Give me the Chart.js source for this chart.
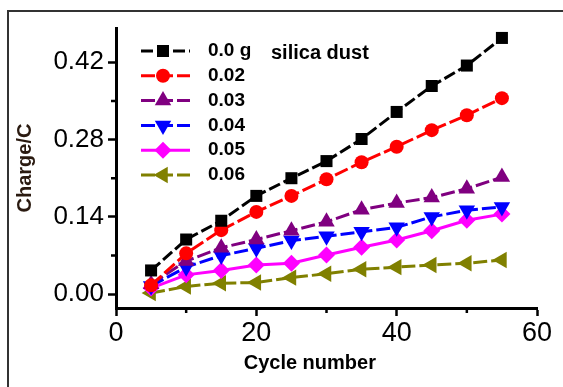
<!DOCTYPE html>
<html>
<head>
<meta charset="utf-8">
<script src="https://cdn.jsdelivr.net/npm/chart.js@4/dist/chart.umd.min.js"></script>
<style>
  html, body { margin: 0; padding: 0; background: #fff; }
  #wrap { width: 563px; height: 387px; }
</style>
</head>
<body>
<div id="wrap"><canvas id="myChart" width="563" height="387"></canvas></div>
<script>
// Data
const cycles = [5, 10, 15, 20, 25, 30, 35, 40, 45, 50, 55];
const seriesLabels = ['0.0 g', '0.02', '0.03', '0.04', '0.05', '0.06'];
const legendNote = 'silica dust';
const dust000 = [0.043, 0.099, 0.133, 0.178, 0.210, 0.241, 0.281, 0.330, 0.377, 0.414, 0.464];
const dust002 = [0.016, 0.074, 0.116, 0.149, 0.178, 0.208, 0.239, 0.267, 0.297, 0.324, 0.355];
const dust003 = [0.018, 0.060, 0.084, 0.099, 0.115, 0.131, 0.153, 0.165, 0.175, 0.191, 0.212];
const dust004 = [0.015, 0.049, 0.070, 0.083, 0.097, 0.105, 0.113, 0.121, 0.140, 0.152, 0.158];
const dust005 = [0.011, 0.035, 0.043, 0.053, 0.056, 0.071, 0.085, 0.098, 0.115, 0.134, 0.145];
const dust006 = [0.002, 0.014, 0.020, 0.021, 0.030, 0.037, 0.045, 0.049, 0.053, 0.056, 0.062];
const xTicks = [0, 20, 40, 60];
const xMinorTicks = [10, 30, 50];
const yTicks = [0, 0.14, 0.28, 0.42];
const yMinorTicks = [0.07, 0.21, 0.35];

const fontFamily = 'Arial, "Liberation Sans", sans-serif';

function makeSet(label, values, color, style, radius, rotation, dash) {
  return {
    label: label,
    data: values.map((v, i) => ({ x: cycles[i], y: v })),
    borderColor: color,
    backgroundColor: color,
    pointBackgroundColor: color,
    pointBorderColor: color,
    pointBorderWidth: 0,
    pointStyle: style,
    pointRadius: radius,
    pointHoverRadius: radius,
    pointRotation: rotation,
    borderWidth: 3,
    borderDash: dash,
    fill: false,
    tension: 0
  };
}

const datasets = [
  makeSet(seriesLabels[0], dust000, '#000000', 'rect', 8.5, 0, [12, 4]),
  makeSet(seriesLabels[1], dust002, '#ff0000', 'circle', 7, 0, [14, 4]),
  makeSet(seriesLabels[2], dust003, '#800080', 'triangle', 9.5, 0, [14, 4]),
  makeSet(seriesLabels[3], dust004, '#0000ff', 'triangle', 9.5, 180, [14, 4]),
  makeSet(seriesLabels[4], dust005, '#ff00ff', 'rectRot', 8.5, 0, []),
  makeSet(seriesLabels[5], dust006, '#808000', 'triangle', 9.5, 270, [14, 4])
];

// outer frame of the figure
const framePlugin = {
  id: 'frame',
  beforeDraw(chart) {
    const ctx = chart.ctx;
    ctx.save();
    ctx.fillStyle = '#fff';
    ctx.fillRect(0, 0, chart.width, chart.height);
    ctx.strokeStyle = '#333';
    ctx.lineWidth = 2;
    ctx.strokeRect(8, 11, chart.width + 20, chart.height + 20);
    ctx.restore();
  }
};

// small minor ticks on both axes
const minorTickPlugin = {
  id: 'minorTicks',
  afterDraw(chart) {
    const ctx = chart.ctx;
    const xs = chart.scales.x, ys = chart.scales.y;
    ctx.save();
    ctx.strokeStyle = '#000';
    ctx.lineWidth = 2.5;
    ctx.beginPath();
    xMinorTicks.forEach(v => {
      const px = xs.getPixelForValue(v);
      ctx.moveTo(px, ys.bottom);
      ctx.lineTo(px, ys.bottom + 5);
    });
    yMinorTicks.forEach(v => {
      const py = ys.getPixelForValue(v);
      ctx.moveTo(xs.left, py);
      ctx.lineTo(xs.left - 5, py);
    });
    ctx.stroke();
    ctx.restore();
  }
};

// legend drawn inside the plot: dashed line + marker + label
const innerLegendPlugin = {
  id: 'innerLegend',
  afterDraw(chart) {
    const ctx = chart.ctx;
    ctx.save();
    chart.data.datasets.forEach((ds, i) => {
      const y = 51 + i * 24.8;
      ctx.strokeStyle = ds.borderColor;
      ctx.lineWidth = 3;
      ctx.setLineDash(ds.borderDash);
      ctx.beginPath();
      ctx.moveTo(141, y);
      ctx.lineTo(190, y);
      ctx.stroke();
      ctx.setLineDash([]);
      ctx.fillStyle = ds.borderColor;
      Chart.helpers.drawPoint(ctx, {
        pointStyle: ds.pointStyle,
        radius: ds.pointRadius,
        rotation: ds.pointRotation,
        borderWidth: 0
      }, 163, y);
      ctx.fillStyle = '#000';
      ctx.font = 'bold 19px ' + fontFamily;
      ctx.textBaseline = 'middle';
      ctx.textAlign = 'left';
      ctx.fillText(ds.label, 208, y);
      if (i === 0) {
        ctx.font = 'bold 20px ' + fontFamily;
        ctx.fillText(legendNote, 271, y + 2);
      }
    });
    ctx.restore();
  }
};

const ctx = document.getElementById('myChart').getContext('2d');

var myChart = new Chart(ctx, {
  type: 'line',
  data: { datasets: datasets },
  options: {
    responsive: false,
    animation: false,
    events: [],
    layout: { padding: { left: 0, top: 28, right: 26, bottom: 0 } },
    plugins: {
      legend: { display: false },
      tooltip: { enabled: false }
    },
    scales: {
      x: {
        type: 'linear',
        min: 0,
        max: 60,
        afterBuildTicks: scale => { scale.ticks = xTicks.map(v => ({ value: v })); },
        afterFit: scale => { scale.height = 79; },
        border: { display: true, color: '#000', width: 3 },
        grid: { display: true, drawOnChartArea: false, drawTicks: true, tickLength: 8, tickWidth: 2.5, tickColor: '#000' },
        ticks: {
          color: '#000',
          padding: 1,
          maxRotation: 0,
          font: { family: fontFamily, size: 27 }
        },
        title: {
          display: true,
          // trailing spaces shift the title left as in the source figure
          text: 'Cycle number      ',
          color: '#000',
          padding: { top: 0, bottom: 12 },
          font: { family: fontFamily, size: 20, weight: 'bold' }
        }
      },
      y: {
        type: 'linear',
        min: -0.025,
        max: 0.482,
        afterBuildTicks: scale => { scale.ticks = yTicks.map(v => ({ value: v })); },
        afterFit: scale => { scale.width = 116; },
        border: { display: true, color: '#000', width: 3 },
        grid: { display: true, drawOnChartArea: false, drawTicks: true, tickLength: 8, tickWidth: 2.5, tickColor: '#000' },
        ticks: {
          color: '#000',
          padding: 4,
          font: { family: fontFamily, size: 26 },
          callback: v => v.toFixed(2)
        },
        title: {
          display: true,
          text: 'Charge/C',
          color: '#2a1a10',
          padding: { top: 13, bottom: 0 },
          font: { family: fontFamily, size: 20, weight: 'bold' }
        }
      }
    }
  },
  plugins: [framePlugin, minorTickPlugin, innerLegendPlugin]
});
</script>
</body>
</html>
